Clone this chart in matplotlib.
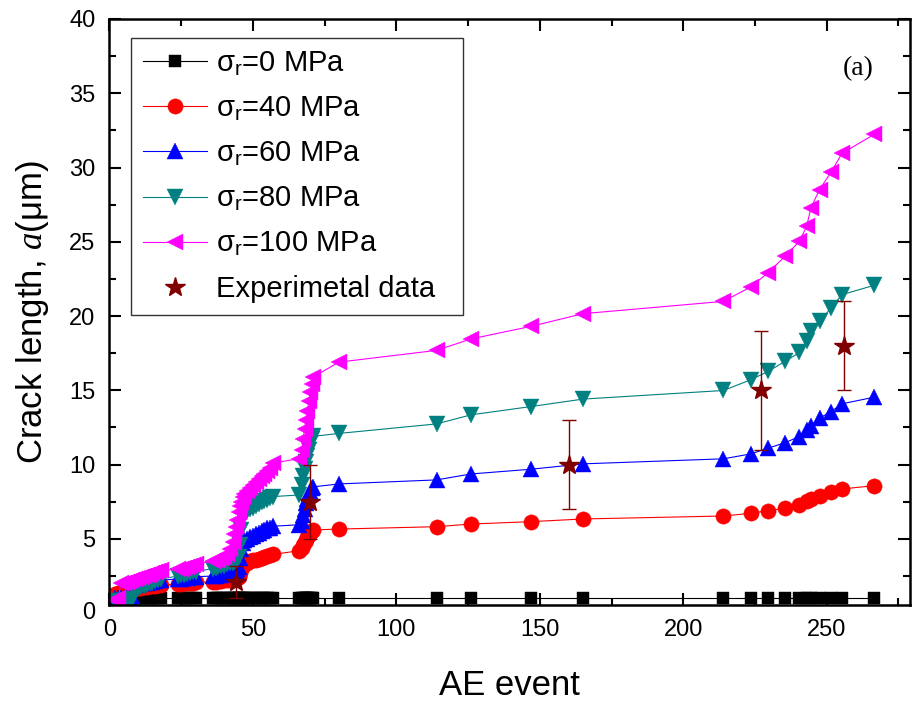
import matplotlib
matplotlib.use("Agg")
import matplotlib.pyplot as plt
from matplotlib.ticker import MultipleLocator
import matplotlib.transforms as mtransforms

plt.rcParams['font.family'] = ['Liberation Sans', 'DejaVu Sans']
plt.rcParams['mathtext.fontset'] = 'custom'
plt.rcParams['mathtext.rm'] = 'Liberation Sans'
plt.rcParams['mathtext.it'] = 'Liberation Serif:italic'

# AE event index (shared by all series)
ae_event = [2, 3, 4, 5, 6, 7, 8, 9, 10, 11, 12, 13, 14, 15, 16, 17, 18,
            24, 25, 26, 27, 28, 29, 30,
            36, 37, 38, 39, 40, 41, 42, 43, 43.5, 44, 44.5, 45, 45.5, 46, 46.5, 47,
            48, 49, 50, 51, 52, 53, 54, 55, 56, 57,
            66, 67, 67.5, 68, 68.5, 69, 69.5, 70, 70.5, 71,
            80, 114, 126, 147, 165, 214, 223.5, 229.5, 235.5, 240.5, 243, 244.5,
            247.5, 251.5, 255.3, 266.5]

crack_0 = [1.0, 1.0, 1.0, 1.0, 1.0, 1.0, 1.0, 1.0, 1.0, 1.0, 1.0, 1.0, 1.0, 1.0, 1.0, 1.0, 1.0,
           1.0, 1.0, 1.0, 1.0, 1.0, 1.0, 1.0,
           1.0, 1.0, 1.0, 1.0, 1.0, 1.0, 1.0, 1.0, 1.0, 1.0, 1.0, 1.0, 1.0, 1.0, 1.0, 1.0,
           1.0, 1.0, 1.0, 1.0, 1.0, 1.0, 1.0, 1.0, 1.0, 1.0,
           1.0, 1.0, 1.0, 1.0, 1.0, 1.0, 1.0, 1.0, 1.0, 1.0,
           1.0, 1.0, 1.0, 1.0, 1.0, 1.0, 1.0, 1.0, 1.0, 1.0, 1.0, 1.0,
           1.0, 1.0, 1.0, 1.0]

crack_40 = [1.3, 1.35, 1.4, 1.45, 1.5, 1.5, 1.55, 1.65, 1.7, 1.72, 1.75, 1.78, 1.8, 1.82, 1.85, 1.87, 1.9,
            1.95, 1.97, 2.0, 2.0, 2.02, 2.05, 2.07,
            2.1, 2.12, 2.15, 2.17, 2.2, 2.22, 2.25, 2.27, 2.3, 2.32, 2.35, 2.45, 2.7, 3.0, 3.2, 3.3,
            3.4, 3.48, 3.55, 3.6, 3.65, 3.72, 3.78, 3.83, 3.9, 3.95,
            4.2, 4.4, 4.6, 4.8, 4.95, 5.1, 5.25, 5.4, 5.5, 5.6,
            5.66, 5.82, 6.0, 6.16, 6.34, 6.54, 6.72, 6.9, 7.06, 7.28, 7.57, 7.7,
            7.9, 8.14, 8.36, 8.58]

crack_60 = [1.0, 1.0, 1.05, 1.05, 1.1, 1.1, 1.15, 1.9, 1.95, 2.0, 2.02, 2.05, 2.1, 2.12, 2.15, 2.2, 2.22,
            2.3, 2.32, 2.35, 2.38, 2.4, 2.42, 2.45,
            2.5, 2.52, 2.55, 2.6, 2.62, 2.65, 2.7, 2.75, 2.8, 2.85, 2.95, 3.1, 3.7, 4.3, 4.7, 4.9,
            5.0, 5.1, 5.2, 5.3, 5.4, 5.5, 5.6, 5.7, 5.75, 5.85,
            5.95, 6.2, 6.6, 7.0, 7.4, 7.7, 8.0, 8.2, 8.4, 8.5,
            8.7, 8.97, 9.37, 9.69, 10.05, 10.39, 10.72, 11.1, 11.48, 11.89, 12.34, 12.61,
            13.13, 13.57, 14.09, 14.54]

crack_80 = [0.8, 0.8, 0.85, 0.85, 0.9, 0.9, 0.95, 1.6, 1.7, 1.75, 1.85, 1.9, 2.0, 2.05, 2.15, 2.2, 2.3,
            2.5, 2.55, 2.6, 2.65, 2.7, 2.75, 2.8,
            3.0, 3.05, 3.1, 3.15, 3.2, 3.3, 3.35, 3.4, 3.45, 3.5, 3.6, 3.8, 4.6, 5.6, 6.4, 6.7,
            6.85, 7.0, 7.1, 7.2, 7.35, 7.45, 7.55, 7.65, 7.75, 7.85,
            7.95, 8.6, 9.2, 9.7, 10.2, 10.6, 11.0, 11.4, 11.7, 11.9,
            12.1, 12.74, 13.35, 13.91, 14.41, 14.99, 15.71, 16.27, 16.95, 17.55, 18.29, 18.97,
            19.64, 20.55, 21.44, 22.07]

crack_100 = [0.9, 1.0, 2.0, 2.05, 2.1, 2.15, 2.2, 2.3, 2.35, 2.4, 2.5, 2.55, 2.6, 2.7, 2.75, 2.85, 2.9,
             2.95, 3.0, 3.05, 3.1, 3.15, 3.25, 3.3,
             3.5, 3.55, 3.6, 3.7, 3.8, 3.95, 4.3, 4.8, 5.3, 5.8, 6.3, 6.8, 7.2, 7.5, 7.8, 8.0,
             8.2, 8.4, 8.6, 8.8, 9.0, 9.2, 9.4, 9.6, 9.8, 10.1,
             10.4, 11.0, 11.7, 12.4, 13.0, 13.6, 14.3, 14.9, 15.4, 15.9,
             16.9, 17.69, 18.46, 19.31, 20.16, 20.99, 21.96, 22.91, 24.03, 25.04, 26.05, 27.29,
             28.52, 29.69, 30.95, 32.23]

exp_event = [44, 70, 160, 227, 256]
exp_crack = [2.1, 7.5, 10.0, 15.0, 18.0]
exp_err = [1.1, 2.5, 3.0, 4.0, 3.0]

labels = [r'σ$_{\mathregular{r}}$=0 MPa', r'σ$_{\mathregular{r}}$=40 MPa',
          r'σ$_{\mathregular{r}}$=60 MPa', r'σ$_{\mathregular{r}}$=80 MPa',
          r'σ$_{\mathregular{r}}$=100 MPa', 'Experimetal data']

fig = plt.figure(figsize=(9.16, 7.06), dpi=100)
ax = fig.add_axes([0.1195, 0.1431, 0.8739, 0.830])

series = [
    (crack_0, '#000000', 's', 9),
    (crack_40, '#FF0000', 'o', 11),
    (crack_60, '#0000FF', '^', 12),
    (crack_80, '#008080', 'v', 12),
    (crack_100, '#FF00FF', '<', 12),
]
for (vals, col, mk, ms), lab in zip(series, labels[:5]):
    ax.plot(ae_event, vals, color=col, lw=0.8, marker=mk, ms=ms,
            mfc=col, mec=col, mew=0.3, label=lab)

ax.errorbar(exp_event, exp_crack, yerr=exp_err, fmt='none', ecolor='#800000',
            elinewidth=1.0, capsize=5, capthick=1.0, zorder=5)
ax.plot(exp_event, exp_crack, linestyle='none', marker='*', ms=15,
        color='#800000', mec='#800000', label=labels[5], zorder=6)

ax.set_xlim(0, 279)
ax.set_ylim(0.55, 40)
ax.xaxis.set_major_locator(MultipleLocator(50))
ax.xaxis.set_minor_locator(MultipleLocator(25))
ax.yaxis.set_major_locator(MultipleLocator(5))
ax.yaxis.set_minor_locator(MultipleLocator(2.5))
ax.tick_params(which='both', direction='in', top=True, right=True, width=1.5)
ax.tick_params(which='major', length=8.5, labelsize=17, pad=10)
ax.tick_params(which='minor', length=5)
for sp in ax.spines.values():
    sp.set_linewidth(1.8)

# zero label of the y axis (axis starts just above 0)
trans = mtransforms.blended_transform_factory(ax.transAxes, ax.transData)
ax.text(-0.0175, 0, '0', transform=trans, ha='right', va='center', fontsize=17)

ax.set_xlabel('AE event', fontsize=25, labelpad=20)
ax.set_ylabel(r'Crack length, $\mathit{a}$(μm)', fontsize=25, labelpad=13)

ax.text(0.935, 0.916, '(a)', transform=ax.transAxes, fontsize=20,
        family='Liberation Serif', ha='center', va='center')

leg_w = (463 - 131) / 800.5
leg_h = (316 - 38) / 586.0
leg = ax.legend(loc='upper left', bbox_to_anchor=(0.027, 0.968 - leg_h, leg_w, leg_h),
                mode='expand', borderaxespad=0,
                fontsize=21, frameon=True, fancybox=False, handlelength=2.2,
                handletextpad=0.3, labelspacing=0.58, borderpad=0.4, numpoints=1)
leg.get_frame().set_edgecolor('black')
leg.get_frame().set_linewidth(1.0)

fig.savefig('out.png', dpi=100)
